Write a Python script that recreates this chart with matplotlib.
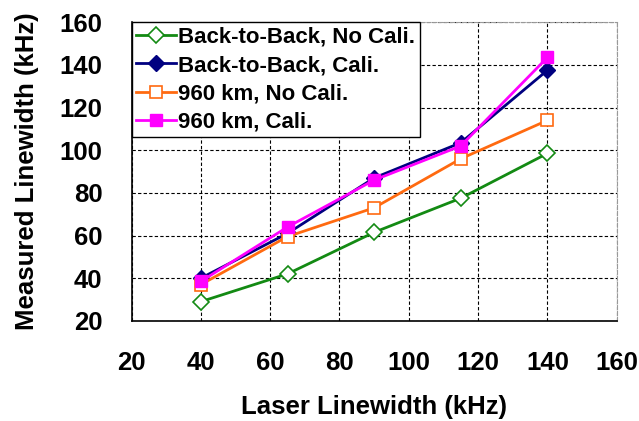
import matplotlib.pyplot as plt

plt.rcParams['font.family'] = 'Liberation Sans'
plt.rcParams['font.weight'] = 'bold'

laser_lw = [40, 65, 90, 115, 140]
b2b_nocal = [29, 42, 61.5, 77.5, 98.5]
b2b_cal = [40, 61, 87, 103.5, 137.5]
km960_nocal = [37, 59.5, 73, 96, 114]
km960_cal = [38.5, 64, 86, 102, 143.5]

labels = ['Back-to-Back, No Cali.', 'Back-to-Back, Cali.',
          '960 km, No Cali.', '960 km, Cali.']

fig = plt.figure(figsize=(6.39, 4.21), dpi=100)
ax = fig.add_axes([0.206, 0.238, 0.759, 0.709])

ax.plot(laser_lw, b2b_nocal, color='#138a13', lw=2, marker='D', ms=8,
        mfc='white', mec='#138a13', mew=1.2, label=labels[0])
ax.plot(laser_lw, b2b_cal, color='#000080', lw=2, marker='D', ms=8,
        mfc='#000080', mec='#000080', label=labels[1])
ax.plot(laser_lw, km960_nocal, color='#ff6a10', lw=2, marker='s', ms=8,
        mfc='white', mec='#ff6a10', mew=1.2, label=labels[2])
ax.plot(laser_lw, km960_cal, color='#ff00ff', lw=2, marker='s', ms=8,
        mfc='#ff00ff', mec='#ff00ff', label=labels[3])

ax.set_xlim(20, 160)
ax.set_ylim(20, 160)
ax.set_xticks(range(20, 161, 20))
ax.set_yticks(range(20, 161, 20))
ax.tick_params(labelsize=18.5, length=0)
ax.tick_params(axis='x', pad=22)
ax.tick_params(axis='y', pad=21)
ax.grid(True, color='black', linestyle='--', linewidth=0.8, dashes=(3, 2))
for s in ['top', 'right']:
    ax.spines[s].set_color('#999999')
    ax.spines[s].set_linestyle('--')
for s in ['left', 'bottom']:
    ax.spines[s].set_linewidth(1.2)

ax.set_xlabel('Laser Linewidth (kHz)', fontsize=18.5, fontweight='bold', labelpad=14)
ax.set_ylabel('Measured Linewidth (kHz)', fontsize=18.5, fontweight='bold', labelpad=15)

leg = ax.legend(loc='upper left', bbox_to_anchor=(0, 1), borderaxespad=0,
                fontsize=16, frameon=True, fancybox=False, edgecolor='black',
                framealpha=1, handlelength=1.8, handletextpad=0.1,
                labelspacing=0.33, borderpad=0.2)
leg.get_frame().set_linewidth(1.0)

fig.savefig('out.png', dpi=100)
